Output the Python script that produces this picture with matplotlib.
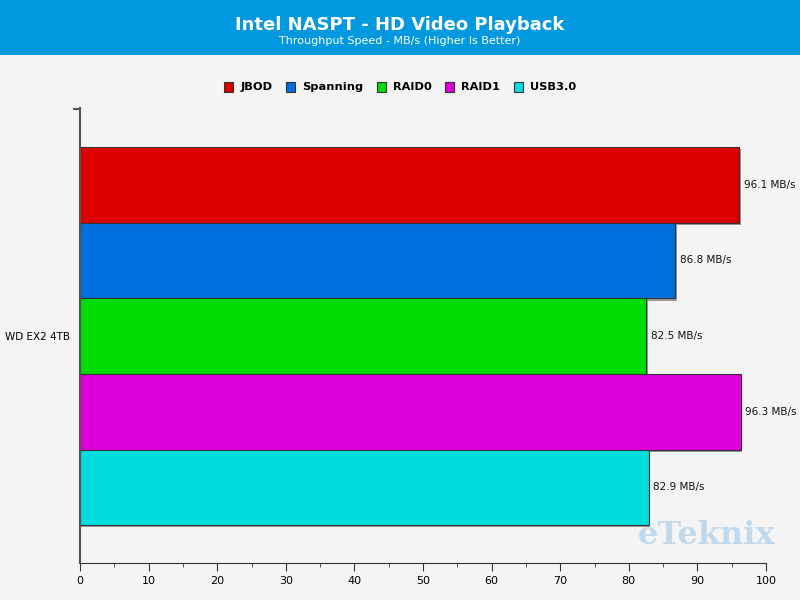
import matplotlib.pyplot as plt
from matplotlib.patches import Rectangle

series = ['JBOD', 'Spanning', 'RAID0', 'RAID1', 'USB3.0']
values = [96.1, 86.8, 82.5, 96.3, 82.9]
colors = ['#dd0000', '#006fdd', '#00dd00', '#dd00dd', '#00dddd']
device = 'WD EX2 4TB'
xticks = [0, 10, 20, 30, 40, 50, 60, 70, 80, 90, 100]

bg = '#f4f4f4'
fig = plt.figure(figsize=(8, 6), dpi=100, facecolor=bg)

# blue header band
fig.patches.append(Rectangle((0, 1 - 55 / 600), 1, 55 / 600, transform=fig.transFigure,
                             facecolor='#0099e0', edgecolor='none', zorder=0))
fig.text(0.5, 0.958, 'Intel NASPT - HD Video Playback', ha='center', va='center',
         color='white', fontsize=13, fontweight='bold')
fig.text(0.5, 0.932, 'Throughput Speed - MB/s (Higher Is Better)', ha='center', va='center',
         color='white', fontsize=8)

ax = fig.add_axes([0.1, 1 - 563 / 600, 0.8575, (563 - 108) / 600])
ax.set_facecolor(bg)

for i, (name, v, c) in enumerate(zip(series, values, colors)):
    # shadow
    ax.barh(i + 0.03, v + 0.25, height=1.0, color='#9a9a9a', zorder=1)
    ax.barh(i, v, height=1.0, color=c, edgecolor='#333333', linewidth=0.8,
            label=name, zorder=2)
    ax.text(v + 0.7, i, f'{v} MB/s', va='center', ha='left', fontsize=7.5, color='#111111')

ax.set_xlim(0, 100)
ax.set_ylim(5.0, -1.016)
ax.set_xticks(xticks)
ax.set_xticks(range(5, 100, 10), minor=True)
ax.tick_params(axis='x', which='major', length=6, labelsize=8, color='#333333')
ax.tick_params(axis='x', which='minor', length=3, color='#333333')
ax.set_yticks([2])
ax.set_yticklabels([device], fontsize=7.5)
ax.set_yticks([-1.0], minor=True)
ax.tick_params(axis='y', which='major', length=0, pad=7)
ax.tick_params(axis='y', which='minor', length=5, width=1.5, color='#555555')
for s in ['top', 'right']:
    ax.spines[s].set_visible(False)
ax.spines['left'].set_color('#555555')
ax.spines['left'].set_linewidth(1.5)
ax.spines['bottom'].set_color('#333333')

handles, labels = ax.get_legend_handles_labels()
leg = fig.legend(handles, labels, loc='center', bbox_to_anchor=(0.5, 1 - 87 / 600), ncol=5,
                 frameon=False, fontsize=8.2, handlelength=0.8, handleheight=1.0,
                 handletextpad=0.6, columnspacing=1.2)
for t in leg.get_texts():
    t.set_fontweight('bold')

# watermark
fig.text(0.883, 1 - 536 / 600, 'eTeknix', ha='center', va='center', fontsize=23,
         fontweight='heavy', family='DejaVu Serif', color='#b5d3ec', alpha=0.8, zorder=0)

fig.savefig('out.png', dpi=100, facecolor=bg)
